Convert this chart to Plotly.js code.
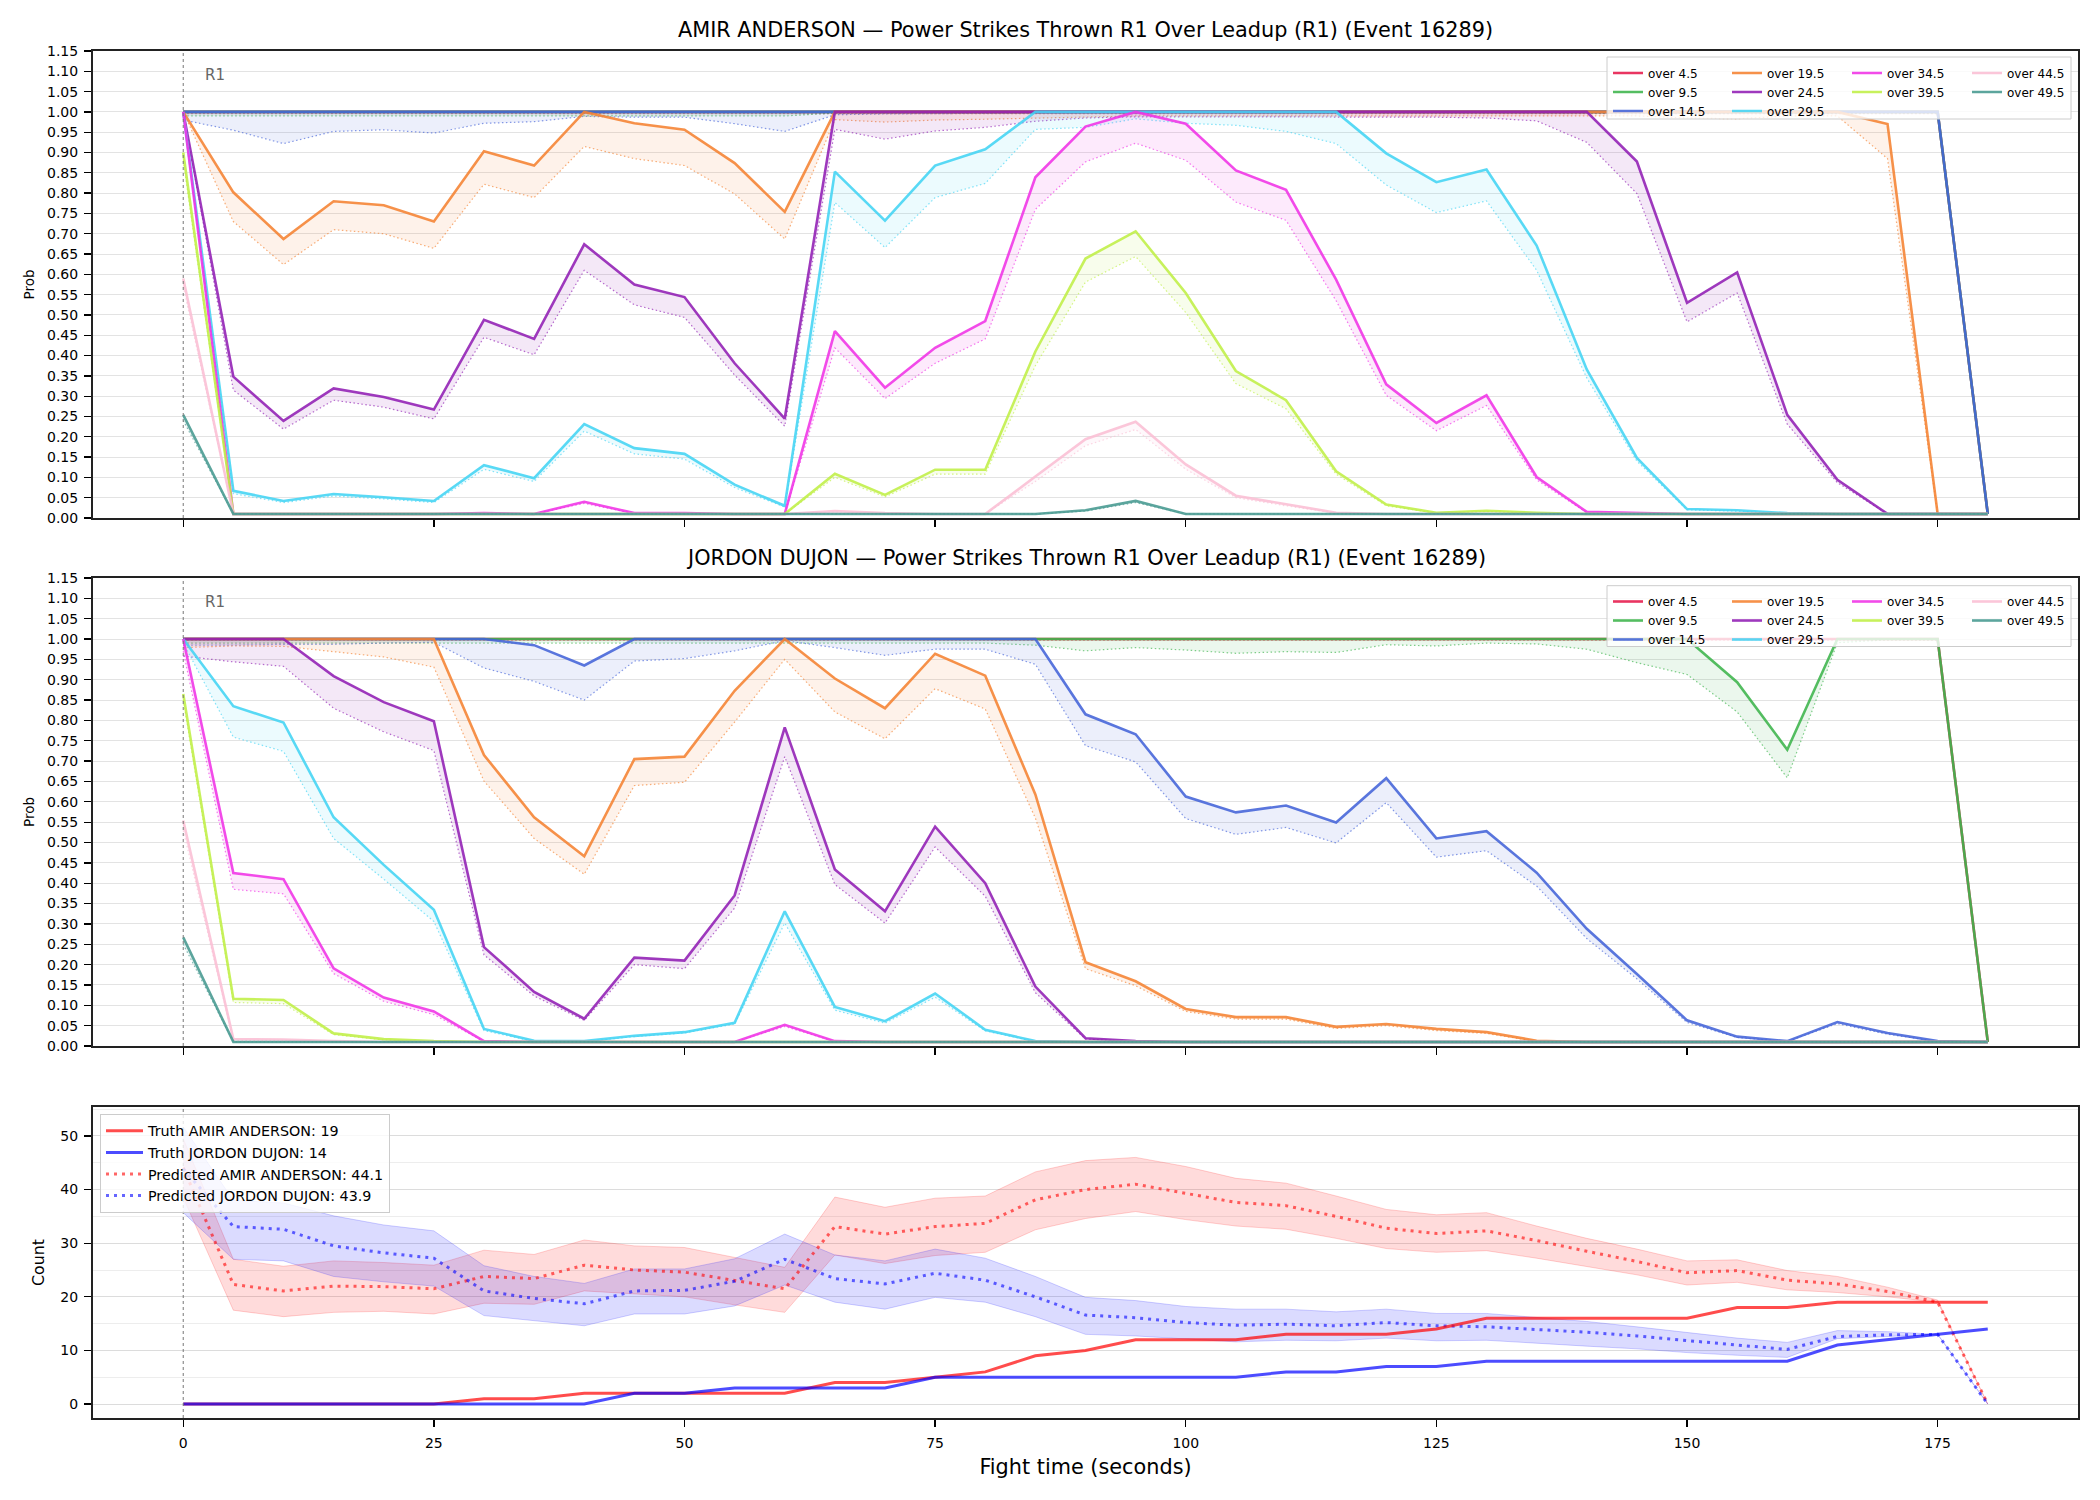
<!DOCTYPE html>
<html>
<head>
<meta charset="utf-8">
<script src="https://cdn.plot.ly/plotly-3.0.1.min.js"></script>
<style>html,body{margin:0;padding:0;background:#fff;}#chart{width:2100px;height:1500px;}</style>
</head>
<body>
<div id="chart"></div>
<script>
// ---------------- DATA ----------------
const fightTime = [0,5,10,15,20,25,30,35,40,45,50,55,60,65,70,75,80,85,90,95,100,105,110,115,120,125,130,135,140,145,150,155,160,165,170,175,180];
const thresholdNames = ['over 4.5','over 9.5','over 14.5','over 19.5','over 24.5','over 29.5','over 34.5','over 39.5','over 44.5','over 49.5'];
const thresholdColors = [[230,25,75],[60,180,75],[67,99,216],[245,130,49],[145,30,180],[66,212,244],[240,50,230],[191,239,69],[250,190,212],[70,153,144]];

// AMIR ANDERSON probabilities (solid) and lower band (dotted)
const amir_4_5    = [1,1,1,1,1,1,1,1,1,1, 1,1,1,1,1,1,1,1,1,1, 1,1,1,1,1,1,1,1,1,1, 1,1,1,1,1,1,0.01];
const amir_4_5_lo = [0.996,0.996,0.996,0.996,0.996,0.996,0.996,0.996,0.996,0.996, 0.996,0.996,0.996,0.996,0.996,0.996,0.996,0.996,0.996,0.996, 0.996,0.996,0.996,0.996,0.996,0.996,0.996,0.996,0.996,0.996, 0.996,0.996,0.996,0.996,0.996,0.996,0.01];
const amir_9_5    = [1,1,1,1,1,1,1,1,1,1, 1,1,1,1,1,1,1,1,1,1, 1,1,1,1,1,1,1,1,1,1, 1,1,1,1,1,1,0.01];
const amir_9_5_lo = [0.99,0.99,0.99,0.99,0.99,0.99,0.99,0.99,0.99,0.99, 0.99,0.99,0.99,0.997,0.997,0.997,0.997,0.997,0.997,0.997, 0.997,0.997,0.997,0.997,0.997,0.997,0.997,0.997,0.997,0.997, 0.997,0.997,0.997,0.997,0.997,0.997,0.01];
const amir_14_5    = [1,1,1,1,1,1,1,1,1,1, 1,1,1,1,1,1,1,1,1,1, 1,1,1,1,1,1,1,1,1,1, 1,1,1,1,1,1,0.01];
const amir_14_5_lo = [0.98,0.955,0.922,0.952,0.956,0.948,0.972,0.976,0.989,0.987, 0.987,0.971,0.952,0.993,0.995,0.996,0.997,0.998,0.998,0.998, 0.998,0.998,0.998,0.998,0.998,0.998,0.998,0.998,0.998,0.998, 0.998,0.998,0.998,0.998,0.998,0.998,0.01];
const amir_19_5    = [1,0.802,0.687,0.780,0.770,0.730,0.903,0.868,1,0.972, 0.956,0.874,0.754,1,1,1,1,1,1,1, 1,1,1,1,1,1,1,1,1,1, 1,1,1,1,0.97,0.01,0.01];
const amir_19_5_lo = [1,0.730,0.624,0.710,0.700,0.664,0.822,0.789,0.915,0.885, 0.868,0.798,0.687,0.981,0.975,0.980,0.982,0.985,0.988,0.99, 0.99,0.99,0.99,0.99,0.99,0.99,0.99,0.99,0.99,0.99, 0.985,0.983,0.99,0.99,0.885,0.01,0.01];
const amir_24_5    = [1,0.348,0.239,0.319,0.298,0.267,0.488,0.441,0.674,0.575, 0.544,0.381,0.245,1,1,1,1,1,1,1, 1,1,1,1,1,1,1,1,1,0.878, 0.530,0.605,0.254,0.094,0.01,0.01,0.01];
const amir_24_5_lo = [1,0.315,0.219,0.290,0.273,0.244,0.445,0.402,0.610,0.525, 0.494,0.352,0.226,0.957,0.933,0.953,0.962,0.977,0.985,0.988, 0.988,0.988,0.988,0.988,0.988,0.987,0.985,0.978,0.925,0.799, 0.483,0.554,0.231,0.087,0.01,0.01,0.01];
const amir_29_5    = [1,0.067,0.042,0.059,0.051,0.042,0.130,0.098,0.231,0.172, 0.158,0.082,0.030,0.853,0.732,0.868,0.908,1,1,1, 1,1,1,1,0.898,0.827,0.858,0.671,0.366,0.148, 0.022,0.019,0.012,0.01,0.01,0.01,0.01];
const amir_29_5_lo = [1,0.060,0.038,0.054,0.047,0.038,0.120,0.090,0.214,0.158, 0.145,0.075,0.027,0.777,0.666,0.789,0.824,0.957,0.962,0.983, 0.972,0.967,0.952,0.922,0.820,0.752,0.781,0.610,0.345,0.140, 0.020,0.017,0.011,0.01,0.01,0.01,0.01];
const amir_34_5    = [1,0.01,0.01,0.01,0.01,0.01,0.012,0.01,0.040,0.012, 0.012,0.01,0.01,0.460,0.321,0.419,0.485,0.839,0.964,1, 0.971,0.856,0.808,0.587,0.329,0.234,0.302,0.101,0.015,0.012, 0.01,0.01,0.01,0.01,0.01,0.01,0.01];
const amir_34_5_lo = [1,0.01,0.01,0.01,0.01,0.01,0.011,0.01,0.036,0.011, 0.011,0.01,0.01,0.419,0.294,0.381,0.441,0.760,0.877,0.923, 0.881,0.778,0.733,0.535,0.302,0.215,0.277,0.094,0.013,0.011, 0.01,0.01,0.01,0.01,0.01,0.01,0.01];
const amir_39_5    = [0.90,0.01,0.01,0.01,0.01,0.01,0.01,0.01,0.01,0.01, 0.01,0.01,0.01,0.109,0.057,0.119,0.119,0.410,0.639,0.706, 0.554,0.362,0.290,0.115,0.033,0.013,0.018,0.013,0.01,0.01, 0.01,0.01,0.01,0.01,0.01,0.01,0.01];
const amir_39_5_lo = [0.88,0.01,0.01,0.01,0.01,0.01,0.01,0.01,0.01,0.01, 0.01,0.01,0.01,0.100,0.052,0.108,0.108,0.375,0.581,0.644, 0.506,0.331,0.269,0.108,0.030,0.012,0.016,0.012,0.01,0.01, 0.01,0.01,0.01,0.01,0.01,0.01,0.01];
const amir_44_5    = [0.590,0.01,0.01,0.01,0.01,0.01,0.01,0.01,0.01,0.01, 0.01,0.01,0.01,0.017,0.012,0.01,0.01,0.102,0.194,0.237, 0.132,0.055,0.034,0.013,0.01,0.01,0.01,0.01,0.01,0.01, 0.01,0.01,0.01,0.01,0.01,0.01,0.01];
const amir_44_5_lo = [0.570,0.01,0.01,0.01,0.01,0.01,0.01,0.01,0.01,0.01, 0.01,0.01,0.01,0.015,0.011,0.01,0.01,0.090,0.178,0.218, 0.120,0.050,0.030,0.012,0.01,0.01,0.01,0.01,0.01,0.01, 0.01,0.01,0.01,0.01,0.01,0.01,0.01];
const amir_49_5    = [0.254,0.01,0.01,0.01,0.01,0.01,0.01,0.01,0.01,0.01, 0.01,0.01,0.01,0.01,0.01,0.01,0.01,0.01,0.019,0.042, 0.01,0.01,0.01,0.01,0.01,0.01,0.01,0.01,0.01,0.01, 0.01,0.01,0.01,0.01,0.01,0.01,0.01];
const amir_49_5_lo = [0.240,0.01,0.01,0.01,0.01,0.01,0.01,0.01,0.01,0.01, 0.01,0.01,0.01,0.01,0.01,0.01,0.01,0.01,0.017,0.038, 0.01,0.01,0.01,0.01,0.01,0.01,0.01,0.01,0.01,0.01, 0.01,0.01,0.01,0.01,0.01,0.01,0.01];

// JORDON DUJON probabilities (solid) and lower band (dotted)
const jd_4_5    = [1,1,1,1,1,1,1,1,1,1, 1,1,1,1,1,1,1,1,1,1, 1,1,1,1,1,1,1,1,1,1, 1,1,1,1,1,1,0.01];
const jd_4_5_lo = [0.997,0.997,0.997,0.997,0.997,0.997,0.997,0.997,0.997,0.997, 0.997,0.997,0.997,0.997,0.997,0.997,0.997,0.997,0.997,0.997, 0.997,0.997,0.997,0.997,0.997,0.997,0.997,0.997,0.997,0.997, 0.997,0.997,0.997,0.997,0.997,0.997,0.01];
const jd_9_5    = [1,1,1,1,1,1,1,1,1,1, 1,1,1,1,1,1,1,1,1,1, 1,1,1,1,1,1,1,1,1,1, 1,0.894,0.728,1,1,1,0.01];
const jd_9_5_lo = [0.99,0.99,0.99,0.99,0.99,0.99,0.99,0.99,0.99,0.99, 0.99,0.99,0.99,0.99,0.99,0.99,0.99,0.985,0.971,0.979, 0.973,0.965,0.969,0.967,0.986,0.983,0.990,0.988,0.975,0.942, 0.913,0.821,0.659,0.991,0.998,0.998,0.01];
const jd_14_5    = [1,1,1,1,1,1,1,0.985,0.935,1, 1,1,1,1,1,1,1,1,0.815,0.766, 0.613,0.574,0.591,0.549,0.658,0.510,0.528,0.426,0.288,0.177, 0.063,0.023,0.012,0.059,0.032,0.012,0.01];
const jd_14_5_lo = [0.985,0.985,0.987,0.987,0.99,0.992,0.929,0.896,0.850,0.946, 0.952,0.971,0.996,0.979,0.960,0.975,0.975,0.938,0.738,0.698, 0.559,0.520,0.537,0.499,0.598,0.464,0.480,0.393,0.264,0.165, 0.058,0.021,0.011,0.055,0.029,0.011,0.01];
const jd_19_5    = [1,1,1,1,1,1,0.715,0.562,0.466,0.705, 0.711,0.873,1,0.903,0.830,0.964,0.910,0.618,0.206,0.159, 0.091,0.071,0.071,0.047,0.054,0.042,0.034,0.013,0.01,0.01, 0.01,0.01,0.01,0.01,0.01,0.01,0.01];
const jd_19_5_lo = [0.979,0.983,0.982,0.969,0.956,0.931,0.651,0.510,0.422,0.640, 0.648,0.796,0.950,0.821,0.755,0.878,0.828,0.560,0.190,0.148, 0.085,0.066,0.066,0.043,0.050,0.038,0.031,0.011,0.01,0.01, 0.01,0.01,0.01,0.01,0.01,0.01,0.01];
const jd_24_5    = [1,1,1,0.909,0.845,0.798,0.243,0.133,0.067,0.217, 0.210,0.370,0.783,0.434,0.331,0.539,0.400,0.146,0.019,0.012, 0.01,0.01,0.01,0.01,0.01,0.01,0.01,0.01,0.01,0.01, 0.01,0.01,0.01,0.01,0.01,0.01,0.01];
const jd_24_5_lo = [0.958,0.944,0.933,0.830,0.772,0.726,0.224,0.123,0.063,0.200, 0.190,0.339,0.711,0.397,0.302,0.489,0.368,0.131,0.017,0.011, 0.01,0.01,0.01,0.01,0.01,0.01,0.01,0.01,0.01,0.01, 0.01,0.01,0.01,0.01,0.01,0.01,0.01];
const jd_29_5    = [1,0.835,0.795,0.562,0.445,0.335,0.042,0.013,0.012,0.025, 0.034,0.057,0.331,0.096,0.061,0.129,0.040,0.012,0.01,0.01, 0.01,0.01,0.01,0.01,0.01,0.01,0.01,0.01,0.01,0.01, 0.01,0.01,0.01,0.01,0.01,0.01,0.01];
const jd_29_5_lo = [0.99,0.759,0.724,0.510,0.410,0.306,0.038,0.011,0.011,0.023, 0.032,0.054,0.302,0.088,0.056,0.120,0.037,0.011,0.01,0.01, 0.01,0.01,0.01,0.01,0.01,0.01,0.01,0.01,0.01,0.01, 0.01,0.01,0.01,0.01,0.01,0.01,0.01];
const jd_34_5    = [1,0.425,0.410,0.191,0.119,0.085,0.012,0.01,0.01,0.01, 0.01,0.01,0.052,0.012,0.01,0.01,0.01,0.01,0.01,0.01, 0.01,0.01,0.01,0.01,0.01,0.01,0.01,0.01,0.01,0.01, 0.01,0.01,0.01,0.01,0.01,0.01,0.01];
const jd_34_5_lo = [0.97,0.385,0.374,0.178,0.110,0.077,0.011,0.01,0.01,0.01, 0.01,0.01,0.048,0.011,0.01,0.01,0.01,0.01,0.01,0.01, 0.01,0.01,0.01,0.01,0.01,0.01,0.01,0.01,0.01,0.01, 0.01,0.01,0.01,0.01,0.01,0.01,0.01];
const jd_39_5    = [0.865,0.116,0.113,0.031,0.017,0.012,0.01,0.01,0.01,0.01, 0.01,0.01,0.01,0.01,0.01,0.01,0.01,0.01,0.01,0.01, 0.01,0.01,0.01,0.01,0.01,0.01,0.01,0.01,0.01,0.01, 0.01,0.01,0.01,0.01,0.01,0.01,0.01];
const jd_39_5_lo = [0.85,0.107,0.104,0.028,0.015,0.011,0.01,0.01,0.01,0.01, 0.01,0.01,0.01,0.01,0.01,0.01,0.01,0.01,0.01,0.01, 0.01,0.01,0.01,0.01,0.01,0.01,0.01,0.01,0.01,0.01, 0.01,0.01,0.01,0.01,0.01,0.01,0.01];
const jd_44_5    = [0.554,0.017,0.016,0.012,0.01,0.01,0.01,0.01,0.01,0.01, 0.01,0.01,0.01,0.01,0.01,0.01,0.01,0.01,0.01,0.01, 0.01,0.01,0.01,0.01,0.01,0.01,0.01,0.01,0.01,0.01, 0.01,0.01,0.01,0.01,0.01,0.01,0.01];
const jd_44_5_lo = [0.53,0.014,0.014,0.011,0.01,0.01,0.01,0.01,0.01,0.01, 0.01,0.01,0.01,0.01,0.01,0.01,0.01,0.01,0.01,0.01, 0.01,0.01,0.01,0.01,0.01,0.01,0.01,0.01,0.01,0.01, 0.01,0.01,0.01,0.01,0.01,0.01,0.01];
const jd_49_5    = [0.267,0.01,0.01,0.01,0.01,0.01,0.01,0.01,0.01,0.01, 0.01,0.01,0.01,0.01,0.01,0.01,0.01,0.01,0.01,0.01, 0.01,0.01,0.01,0.01,0.01,0.01,0.01,0.01,0.01,0.01, 0.01,0.01,0.01,0.01,0.01,0.01,0.01];
const jd_49_5_lo = [0.25,0.01,0.01,0.01,0.01,0.01,0.01,0.01,0.01,0.01, 0.01,0.01,0.01,0.01,0.01,0.01,0.01,0.01,0.01,0.01, 0.01,0.01,0.01,0.01,0.01,0.01,0.01,0.01,0.01,0.01, 0.01,0.01,0.01,0.01,0.01,0.01,0.01];

// Counts panel
const truthAmir = [0,0,0,0,0,0,1,1,2,2, 2,2,2,4,4,5,6,9,10,12, 12,12,13,13,13,14,16,16,16,16, 16,18,18,19,19,19,19];
const truthJordon = [0,0,0,0,0,0,0,0,0,2, 2,3,3,3,3,5,5,5,5,5, 5,5,6,6,7,7,8,8,8,8, 8,8,8,11,12,13,14];
const predAmir = [44.1,22.3,21.1,22.0,21.9,21.5,23.8,23.4,25.9,25.0, 24.6,23.0,21.5,33.1,31.7,33.1,33.7,38.1,40.0,41.0, 39.3,37.6,37.0,35.0,32.8,31.8,32.3,30.5,28.5,26.6, 24.5,24.9,23.1,22.4,21.0,19.0,0];
const predAmirHi = [49.5,27.0,25.7,26.7,26.4,25.9,28.7,27.9,30.6,29.5, 29.2,27.4,25.5,38.6,36.7,38.4,38.8,43.3,45.4,46.0, 44.3,42.1,41.2,38.8,36.3,35.3,35.7,33.2,30.9,28.9, 26.7,26.9,24.9,23.8,21.8,19.4,0];
const predAmirLo = [38.5,17.5,16.3,17.1,17.3,16.8,18.8,18.6,21.1,20.5, 20.0,18.5,17.1,27.8,26.2,27.7,28.3,32.5,34.6,35.9, 34.4,33.2,32.6,30.9,29.0,28.3,28.6,27.2,25.6,24.1, 22.2,22.7,21.3,20.8,20.0,19.0,0];
const predJordon = [43.9,33.1,32.6,29.5,28.2,27.2,21.1,19.7,18.7,21.1, 21.2,22.9,27.0,23.4,22.4,24.4,23.1,20.0,16.6,16.1, 15.2,14.7,14.9,14.6,15.2,14.6,14.4,13.9,13.4,12.7, 11.8,11.0,10.2,12.6,12.9,13.0,0];
const predJordonHi = [51.7,38.0,37.5,35.1,33.4,32.3,25.8,23.8,22.5,25.2, 25.2,27.1,31.7,27.8,26.7,28.9,27.2,23.8,19.9,19.3, 18.2,17.7,17.7,17.2,17.7,16.9,16.9,16.1,15.4,14.4, 13.3,12.3,11.5,13.7,13.5,13.0,0];
const predJordonLo = [35.7,27.0,26.7,23.8,22.8,22.0,16.5,15.5,14.6,16.8, 16.8,18.3,22.2,19.0,17.7,19.9,19.0,16.3,13.0,12.7, 12.1,11.6,11.9,11.8,12.3,11.8,11.9,11.3,10.8,10.3, 9.6,9.1,8.7,12.2,12.6,13.0,0];

const xTicks = [0,25,50,75,100,125,150,175];
const titleTop = 'AMIR ANDERSON — Power Strikes Thrown R1 Over Leadup (R1) (Event 16289)';
const titleMid = 'JORDON DUJON — Power Strikes Thrown R1 Over Leadup (R1) (Event 16289)';
const legendLabels = ['Truth AMIR ANDERSON: 19','Truth JORDON DUJON: 14','Predicted AMIR ANDERSON: 44.1','Predicted JORDON DUJON: 43.9'];

const amirHi = [amir_4_5,amir_9_5,amir_14_5,amir_19_5,amir_24_5,amir_29_5,amir_34_5,amir_39_5,amir_44_5,amir_49_5];
const amirLo = [amir_4_5_lo,amir_9_5_lo,amir_14_5_lo,amir_19_5_lo,amir_24_5_lo,amir_29_5_lo,amir_34_5_lo,amir_39_5_lo,amir_44_5_lo,amir_49_5_lo];
const jdHi = [jd_4_5,jd_9_5,jd_14_5,jd_19_5,jd_24_5,jd_29_5,jd_34_5,jd_39_5,jd_44_5,jd_49_5];
const jdLo = [jd_4_5_lo,jd_9_5_lo,jd_14_5_lo,jd_19_5_lo,jd_24_5_lo,jd_29_5_lo,jd_34_5_lo,jd_39_5_lo,jd_44_5_lo,jd_49_5_lo];

// ---------------- BUILD ----------------
const FONT = 'DejaVu Sans, Liberation Sans, sans-serif';
function rgba(c,a){return 'rgba('+c[0]+','+c[1]+','+c[2]+','+a+')';}
const traces = [];
function colOf(i){return i<3?0:(i<6?1:(i<8?2:3));}
function addProb(hiList, loList, xa, ya, legendIds){
  for(let i=0;i<thresholdNames.length;i++){
    const c = thresholdColors[i];
    traces.push({x:fightTime, y:loList[i], xaxis:xa, yaxis:ya, type:'scatter', mode:'lines',
      line:{color:rgba(c,0.65), width:1.2, dash:'1.5px,2.5px'}, showlegend:false, hoverinfo:'skip', legend:'legend10'});
    traces.push({x:fightTime, y:hiList[i], xaxis:xa, yaxis:ya, type:'scatter', mode:'lines',
      line:{width:0}, fill:'tonexty', fillcolor:rgba(c,0.1), showlegend:false, hoverinfo:'skip', legend:'legend10'});
    traces.push({x:fightTime, y:hiList[i], xaxis:xa, yaxis:ya, type:'scatter', mode:'lines',
      name:thresholdNames[i], line:{color:rgba(c,0.88), width:2.6}, legend:legendIds[colOf(i)]});
  }
}
addProb(amirHi, amirLo, 'x', 'y', ['legend','legend2','legend3','legend4']);
addProb(jdHi, jdLo, 'x2', 'y2', ['legend5','legend6','legend7','legend8']);

const RED=[255,0,0], BLUE=[0,0,255];
function band(lo, hi, c){
  traces.push({x:fightTime, y:lo, xaxis:'x3', yaxis:'y3', mode:'lines', line:{color:rgba(c,0.18), width:1}, showlegend:false, hoverinfo:'skip', legend:'legend10'});
  traces.push({x:fightTime, y:hi, xaxis:'x3', yaxis:'y3', mode:'lines', line:{color:rgba(c,0.18), width:1}, fill:'tonexty', fillcolor:rgba(c,0.14), showlegend:false, hoverinfo:'skip', legend:'legend10'});
}
band(predAmirLo, predAmirHi, RED);
band(predJordonLo, predJordonHi, BLUE);
traces.push({x:fightTime, y:predAmir, xaxis:'x3', yaxis:'y3', mode:'lines', name:legendLabels[2], legendrank:3, legend:'legend9', line:{color:rgba(RED,0.6), width:3, dash:'3px,5px'}});
traces.push({x:fightTime, y:predJordon, xaxis:'x3', yaxis:'y3', mode:'lines', name:legendLabels[3], legendrank:4, legend:'legend9', line:{color:rgba(BLUE,0.6), width:3, dash:'3px,5px'}});
traces.push({x:fightTime, y:truthAmir, xaxis:'x3', yaxis:'y3', mode:'lines', name:legendLabels[0], legendrank:1, legend:'legend9', line:{color:rgba(RED,0.7), width:3}});
traces.push({x:fightTime, y:truthJordon, xaxis:'x3', yaxis:'y3', mode:'lines', name:legendLabels[1], legendrank:2, legend:'legend9', line:{color:rgba(BLUE,0.7), width:3}});

// geometry (paper coords) derived from pixel layout: plot area 93..2078 x, 51..1418 y
const PH = 1367, PB = 1418, PL = 93, PW = 1985;
function py(px){return (PB-px)/PH;}
function pxx(px){return (px-PL)/PW;}
const domTop=[py(518),1], domMid=[py(1046),py(578)], domBot=[0,py(1107)];

function xAxis(anchor, labels){
  return {domain:[0,1], anchor:anchor, range:[-9,189], tickmode:'array', tickvals:xTicks, showticklabels:labels,
    ticks:'outside', ticklen:7, tickwidth:1.3, tickcolor:'#000', ticklabelstandoff:4,
    showline:true, linecolor:'#222', linewidth:2, mirror:true, showgrid:false, zeroline:false,
    tickfont:{size:14, family:FONT, color:'#000'}};
}
function probY(anchor, dom){
  return {domain:dom, anchor:anchor, range:[0,1.15], tickmode:'linear', tick0:0, dtick:0.05, tickformat:'.2f',
    ticks:'outside', ticklen:7, tickwidth:1.3, tickcolor:'#000', ticklabelstandoff:3,
    showline:true, linecolor:'#222', linewidth:2, mirror:true, showgrid:true, gridcolor:'#e3e3e3', gridwidth:1, zeroline:false,
    tickfont:{size:14, family:FONT, color:'#000'},
    title:{text:'Prob', font:{size:13.5, family:FONT, color:'#000'}, standoff:9}};
}
function legendAt(xpx, ytopPaper){
  return {x:pxx(xpx), y:ytopPaper, xanchor:'left', yanchor:'top', orientation:'v', bgcolor:'rgba(0,0,0,0)', traceorder:'normal',
    borderwidth:0, font:{size:12, family:FONT, color:'#000'}, tracegroupgap:0, itemclick:false, itemdoubleclick:false};
}
const colX = [1608,1727,1847,1967];
const topLegY = py(58.5), midLegY = py(587);

const layout = {
  width:2100, height:1500,
  margin:{l:PL, r:2100-2078, t:51, b:1500-PB},
  paper_bgcolor:'#fff', plot_bgcolor:'#fff',
  font:{family:FONT, color:'#000'},
  showlegend:true,
  xaxis:xAxis('y', false), yaxis:probY('x', domTop),
  xaxis2:xAxis('y2', false), yaxis2:probY('x2', domMid),
  xaxis3:Object.assign(xAxis('y3', true), {title:{text:'Fight time (seconds)', font:{size:20.8, family:FONT, color:'#000'}, standoff:10}}),
  yaxis3:{domain:domBot, anchor:'x3', range:[-2.6,55.4], tickmode:'linear', tick0:0, dtick:10,
    ticks:'outside', ticklen:7, tickwidth:1.3, tickcolor:'#000', ticklabelstandoff:3,
    showline:true, linecolor:'#222', linewidth:2, mirror:true, showgrid:true, gridcolor:'#dcdcdc', gridwidth:1, zeroline:false,
    minor:{tick0:0, dtick:5, showgrid:true, gridcolor:'#ededed', gridwidth:1, ticks:''},
    tickfont:{size:14, family:FONT, color:'#000'},
    title:{text:'Count', font:{size:15.8, family:FONT, color:'#000'}, standoff:12}},
  legend:legendAt(colX[0], topLegY), legend2:legendAt(colX[1], topLegY), legend3:legendAt(colX[2], topLegY), legend4:legendAt(colX[3], topLegY),
  legend5:legendAt(colX[0], midLegY), legend6:legendAt(colX[1], midLegY), legend7:legendAt(colX[2], midLegY), legend8:legendAt(colX[3], midLegY),
  legend9:{x:pxx(100), y:py(1114), xanchor:'left', yanchor:'top', orientation:'v', bgcolor:'rgba(255,255,255,0.8)', traceorder:'normal',
    bordercolor:'#cccccc', borderwidth:1, font:{size:14.3, family:FONT, color:'#000'}, itemwidth:37, tracegroupgap:0},
  legend10:{visible:false},
  shapes:[
    {type:'rect', xref:'paper', yref:'paper', x0:pxx(1607), x1:pxx(2071), y0:py(119), y1:py(57), fillcolor:'rgba(255,255,255,0.8)', line:{color:'#cccccc', width:1}, layer:'above'},
    {type:'rect', xref:'paper', yref:'paper', x0:pxx(1607), x1:pxx(2071), y0:py(646.5), y1:py(585.7), fillcolor:'rgba(255,255,255,0.8)', line:{color:'#cccccc', width:1}, layer:'above'},
    {type:'line', xref:'x', yref:'y domain', x0:0, x1:0, y0:0, y1:1, line:{color:'#777', width:1, dash:'dot'}},
    {type:'line', xref:'x2', yref:'y2 domain', x0:0, x1:0, y0:0, y1:1, line:{color:'#777', width:1, dash:'dot'}},
    {type:'line', xref:'x3', yref:'y3 domain', x0:0, x1:0, y0:0, y1:1, line:{color:'#777', width:1, dash:'dot'}}
  ],
  annotations:[
    {text:titleTop, xref:'paper', yref:'paper', x:0.5, y:1, yanchor:'middle', yshift:21.5, showarrow:false, font:{size:20.8, family:FONT, color:'#000'}},
    {text:titleMid, xref:'paper', yref:'paper', x:0.5, y:domMid[1], yanchor:'middle', yshift:20.5, showarrow:false, font:{size:20.8, family:FONT, color:'#000'}},
    {text:'R1', xref:'x', yref:'y', x:2, y:1.092, xanchor:'left', yanchor:'middle', showarrow:false, font:{size:15, family:FONT, color:'#666'}},
    {text:'R1', xref:'x2', yref:'y2', x:2, y:1.092, xanchor:'left', yanchor:'middle', showarrow:false, font:{size:15, family:FONT, color:'#666'}}
  ]
};

Plotly.newPlot('chart', traces, layout, {staticPlot:true, displayModeBar:false});
</script>
</body>
</html>
